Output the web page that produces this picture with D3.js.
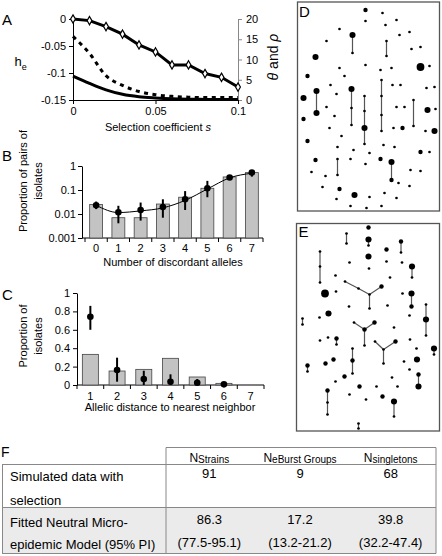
<!DOCTYPE html>
<html><head><meta charset="utf-8">
<script src="https://cdn.jsdelivr.net/npm/d3@7"></script>
<style>body{margin:0;background:#fff}svg{display:block}</style>
</head><body><svg id="c" width="442" height="556"></svg>
<script>
// ---------- Panel A data ----------
const sValues = [0,0.01,0.02,0.03,0.04,0.05,0.06,0.07,0.08,0.09,0.1];
const heValues = [0,-0.003,-0.014,-0.028,-0.048,-0.061,-0.085,-0.085,-0.101,-0.108,-0.126];
const thetaValues = [15.7,11.5,6,3.6,2.1,1.3,0.9,0.7,0.6,0.6,0.6];
const rhoValues = [5.9,4.1,2.5,1.4,0.8,0.5,0.3,0.2,0.15,0.1,0.1];
const aLeftTicks = [0,-0.05,-0.1,-0.15];
const aRightTicks = [0,5,10,15,20];
const aXTicks = [0,0.05,0.1];

// ---------- Panel B data ----------
const bCategories = [0,1,2,3,4,5,6,7];
const bBars = [0.025,0.007,0.007,0.026,0.05,0.118,0.35,0.53];
const bMeans = [0.023,0.0118,0.0147,0.0195,0.041,0.118,0.33,0.53];
const bLow = [0.016,0.0041,0.0053,0.007,0.0147,0.05,0.26,0.36];
const bHigh = [0.033,0.022,0.03,0.041,0.09,0.24,0.42,0.68];
const bFit = [0.023,0.0115,0.0135,0.018,0.037,0.11,0.32,0.5];
const bTicks = [0.001,0.01,0.1,1];

// ---------- Panel C data ----------
const cCategories = [1,2,3,4,5,6,7];
const cBars = [0.333,0.152,0.17,0.29,0.087,0.018,0];
const cMeans = [0.742,0.163,0.065,0.036,0.025,0.007,null];
const cLow = [0.6,0.036,0,0,0,0,null];
const cHigh = [0.86,0.297,0.155,0.116,0.065,0.012,null];
const cTicks = [0,0.2,0.4,0.6,0.8,1];

// ---------- Panel D network (local layout units, size = isolates) ----------
const dNodes = [[68,8,2],[85,11,1],[68,19,1],[99,18,1],[42,27,1],[88,23,1],[55,33,3],[55,51,1],[102,33,1],[112,30,1],
[29,39,1],[89,39,1],[89,54,1],[114,47,1],[123,45,1],[18,55,3],[123,65,4],[132,64,1],[42,66,1],[68,63,1],
[83,68,1],[94,66,1],[10,74,2],[47,74,1],[84,78,1],[19,89,3],[19,111,3],[54,87,3],[54,106,1],[54,123,1],
[67,94,1],[67,109,1],[67,126,3],[67,142,1],[84,94,1],[84,113,1],[84,129,1],[33,83,1],[39,92,1],[6,96,3],
[95,83,1],[103,83,1],[129,86,1],[137,85,1],[116,98,1],[116,124,1],[29,105,1],[37,114,1],[99,105,1],[107,105,1],
[130,108,3],[138,107,1],[6,117,2],[32,126,1],[96,126,1],[105,126,2],[128,129,1],[137,129,3],[44,134,1],[10,139,2],
[40,145,1],[56,148,1],[86,143,1],[97,145,1],[72,151,1],[123,150,2],[132,150,1],[18,158,2],[40,157,1],[40,173,1],
[53,157,1],[68,162,1],[83,157,2],[94,160,3],[94,178,2],[14,170,1],[28,174,1],[113,168,1],[123,169,1],[101,181,1],
[112,184,1],[25,185,1],[42,187,2],[57,193,3],[39,197,1],[72,195,1],[87,191,1],[99,196,1],[53,204,1],[69,206,1],[84,204,1]];
const dEdges = [[7,8],[12,13],[26,27],[28,29],[29,30],[25,35],[35,36],[36,37],[31,32],[32,33],[33,34],[45,46],[69,70],[74,75]];

// ---------- Panel E network ----------
const eNodes = [[72,4,2],[50,10,1],[50,20,1],[72,16,3],[72,22,1],[104.5,18,2],[104.5,29,1],[90,26,2],[23.5,28,1],[23.5,43,1],
[23.5,59,1],[72,33,3],[53,39,1],[90,38,1],[105.5,39,1],[115.5,43,3],[115.5,54,1],[72.5,45,1],[39,52,1],[93.5,54,1],
[48.5,58,1],[62,65,1],[73,71,1],[85,63,2],[73,85,1],[28.5,70,4],[39.5,68,1],[115,70,3],[115,83,2],[106,70,1],
[129.5,81,1],[129.5,96,3],[129.5,112,1],[52.5,83,1],[91,82,1],[32,90,3],[23,94,1],[113,92,1],[6,95,1],[6,101,1],
[57.5,99,1],[68,106,2],[78,99,2],[68,122,1],[97.5,104,1],[23.5,117,1],[31.5,114,1],[40,115,2],[40,121,1],[78.5,118,1],
[87,126,1],[99,118,2],[87,140,1],[113.5,116,1],[120,125,1],[137.5,125,3],[137.5,131,1],[56,125,1],[56,137,2],[56,150,1],
[37,136,2],[29,140,2],[11,142,2],[11,148,1],[107.5,138,1],[120.5,136,3],[113,146,1],[122,151,2],[122,163,3],[48,153,2],
[95.5,154,1],[39,158,1],[63,163,2],[80,163,1],[101,163,1],[31,167,2],[31,179,1],[31,191,1],[53,171,1],[86,173,2],
[97.5,178,3],[97.5,193,1],[69.5,176,1],[62,200,1],[62,205,1]];
const eEdges = [[2,3],[4,5],[6,7],[9,10],[10,11],[16,17],[21,22],[22,23],[24,23],[23,25],[28,29],[31,32],[32,33],[39,40],
[41,42],[43,42],[42,44],[48,49],[50,51],[52,51],[51,53],[56,57],[58,59],[59,60],[63,64],[68,69],[76,77],[77,78],[81,82],[84,85]];

// ---------- Panel F table ----------
const tableHeaders = [["N","Strains"],["N","eBurst Groups"],["N","singletons"]];
const tableRowLabels = [["Simulated data with","selection"],["Fitted Neutral Micro-","epidemic Model (95% PI)"]];
const tableRow1 = ["91","9","68"];
const tableRow2 = [["86.3","(77.5-95.1)"],["17.2","(13.2-21.2)"],["39.8","(32.2-47.4)"]];

// ================= drawing =================
const FONT = "'Liberation Sans', Arial, Helvetica, sans-serif";
const svg = d3.select("#c").attr("font-family", FONT);

function styleAxis(g, col){
  g.attr("font-family", FONT).attr("font-size", 11);
  g.selectAll("text").attr("fill", "#000");
  g.selectAll("line,path").attr("stroke", col || "#000");
}
function txt(x, y, s, size, anchor){
  return svg.append("text").attr("x", x).attr("y", y).attr("font-size", size)
    .attr("text-anchor", anchor || "start").attr("fill", "#000").text(s);
}
function vtxt(x, y, s, size){
  return svg.append("text").attr("transform", `translate(${x},${y}) rotate(-90)`)
    .attr("dy", "0.35em").attr("font-size", size).attr("text-anchor", "middle").attr("fill", "#000").text(s);
}

// ----- Panel A -----
const xA = d3.scaleLinear().domain([0, 0.1]).range([73, 238]);
const yAL = d3.scaleLinear().domain([-0.15, 0]).range([100, 19]);
const yAR = d3.scaleLinear().domain([0, 20]).range([100, 19]);

svg.append("g").attr("transform", "translate(73,0)")
  .call(d3.axisLeft(yAL).tickValues(aLeftTicks).tickSize(4).tickSizeOuter(0).tickPadding(3).tickFormat(d => String(d)))
  .call(g => styleAxis(g));
svg.append("g").attr("transform", "translate(238,0)")
  .call(d3.axisRight(yAR).tickValues(aRightTicks).tickSize(4).tickSizeOuter(0).tickPadding(4))
  .call(g => styleAxis(g, "#888"));
svg.append("g").attr("transform", "translate(0,100)")
  .call(d3.axisBottom(xA).tickValues(aXTicks).tickSize(4).tickSizeOuter(0).tickPadding(3).tickFormat(d => String(d)))
  .call(g => styleAxis(g));

const lineR = d3.line().x((d, i) => xA(sValues[i])).y(d => yAR(d)).curve(d3.curveMonotoneX);
svg.append("path").attr("d", lineR(rhoValues)).attr("fill", "none").attr("stroke", "#000").attr("stroke-width", 3);
svg.append("path").attr("d", lineR(thetaValues)).attr("fill", "none").attr("stroke", "#000").attr("stroke-width", 3)
  .attr("stroke-dasharray", "4,4.5");
const lineL = d3.line().x((d, i) => xA(sValues[i])).y(d => yAL(d));
svg.append("path").attr("d", lineL(heValues)).attr("fill", "none").attr("stroke", "#000").attr("stroke-width", 3);
svg.selectAll(".dm").data(heValues).join("path")
  .attr("transform", (d, i) => `translate(${xA(sValues[i])},${yAL(d)})`)
  .attr("d", d3.symbol(d3.symbolDiamond, 20)()).attr("fill", "#fff").attr("stroke", "#000").attr("stroke-width", 1.2);

txt(2, 25, "A", 15);
const he = txt(14.5, 66, "h", 13);
he.append("tspan").attr("font-size", 9).attr("dy", 4).text("e");
const tr = svg.append("text").attr("transform", "translate(273,57) rotate(-90)").attr("dy", "0.35em")
  .attr("font-size", 14).attr("text-anchor", "middle").attr("fill", "#000");
tr.append("tspan").attr("font-style", "italic").text("θ");
tr.append("tspan").text(" and ");
tr.append("tspan").attr("font-style", "italic").text("ρ");
const xt = txt(158, 131, "Selection coefficient ", 11, "middle");
xt.append("tspan").attr("font-style", "italic").text("s");

// ----- Panel B -----
const xB = d3.scaleBand().domain(bCategories).range([85, 263]);
const yB = d3.scaleLog().domain([0.001, 1]).range([238, 166]);
const bw = xB.bandwidth();
svg.append("g").attr("transform", "translate(82,0)")
  .call(d3.axisLeft(yB).tickValues(bTicks).tickSize(4).tickSizeOuter(0).tickPadding(2).tickFormat(d => String(d)))
  .call(g => styleAxis(g));
svg.append("line").attr("x1", 82).attr("x2", 263).attr("y1", 238).attr("y2", 238).attr("stroke", "#000");
svg.selectAll(".btick").data(bCategories.concat(["end"])).join("line")
  .attr("x1", d => d === "end" ? xB.range()[1] : xB(d)).attr("x2", d => d === "end" ? xB.range()[1] : xB(d))
  .attr("y1", 238).attr("y2", 242).attr("stroke", "#000");
svg.selectAll(".blab").data(bCategories).join("text")
  .attr("x", d => xB(d) + bw / 2).attr("y", 252).attr("font-size", 11).attr("text-anchor", "middle").text(d => d);
svg.selectAll(".bbar").data(bBars).join("rect")
  .attr("x", (d, i) => xB(bCategories[i]) + bw * 0.21).attr("width", bw * 0.58)
  .attr("y", d => yB(d)).attr("height", d => 238 - yB(d))
  .attr("fill", "#c3c3c3").attr("stroke", "#444").attr("stroke-width", 0.8);
svg.append("path").attr("d", d3.line().x((d, i) => xB(bCategories[i]) + bw / 2).y(d => yB(d)).curve(d3.curveMonotoneX)(bFit))
  .attr("fill", "none").attr("stroke", "#000").attr("stroke-width", 1);
svg.selectAll(".berr").data(bMeans).join("line")
  .attr("x1", (d, i) => xB(bCategories[i]) + bw / 2).attr("x2", (d, i) => xB(bCategories[i]) + bw / 2)
  .attr("y1", (d, i) => yB(bLow[i])).attr("y2", (d, i) => yB(bHigh[i])).attr("stroke", "#000").attr("stroke-width", 2);
svg.selectAll(".bpt").data(bMeans).join("circle")
  .attr("cx", (d, i) => xB(bCategories[i]) + bw / 2).attr("cy", d => yB(d)).attr("r", 3.3).attr("fill", "#000");
txt(2, 161, "B", 15);
vtxt(23, 181, "Proportion of pairs of", 11);
vtxt(38, 181, "isolates", 11);
txt(173, 266, "Number of discordant alleles", 11, "middle");

// ----- Panel C -----
const xC = d3.scaleBand().domain(cCategories).range([77, 264]);
const yC = d3.scaleLinear().domain([0, 1]).range([385, 293]);
const cw = xC.bandwidth();
svg.append("g").attr("transform", "translate(77,0)")
  .call(d3.axisLeft(yC).tickValues(cTicks).tickSize(4).tickSizeOuter(0).tickPadding(3).tickFormat(d => String(d)))
  .call(g => styleAxis(g));
svg.append("line").attr("x1", 77).attr("x2", 264).attr("y1", 385).attr("y2", 385).attr("stroke", "#000");
svg.selectAll(".ctick").data(cCategories.concat(["end"])).join("line")
  .attr("x1", d => d === "end" ? xC.range()[1] : xC(d)).attr("x2", d => d === "end" ? xC.range()[1] : xC(d))
  .attr("y1", 385).attr("y2", 389).attr("stroke", "#000");
svg.selectAll(".clab").data(cCategories).join("text")
  .attr("x", d => xC(d) + cw / 2).attr("y", 400).attr("font-size", 11).attr("text-anchor", "middle").text(d => d);
svg.selectAll(".cbar").data(cBars).join("rect")
  .attr("x", (d, i) => xC(cCategories[i]) + cw * 0.2).attr("width", cw * 0.6)
  .attr("y", d => yC(d)).attr("height", d => 385 - yC(d))
  .attr("fill", "#c3c3c3").attr("stroke", "#444").attr("stroke-width", 0.8);
const cIdx = cMeans.map((d, i) => i).filter(i => cMeans[i] !== null);
svg.selectAll(".cerr").data(cIdx).join("line")
  .attr("x1", i => xC(cCategories[i]) + cw / 2).attr("x2", i => xC(cCategories[i]) + cw / 2)
  .attr("y1", i => yC(cLow[i])).attr("y2", i => yC(cHigh[i])).attr("stroke", "#000").attr("stroke-width", 2);
svg.selectAll(".cpt").data(cIdx).join("circle")
  .attr("cx", i => xC(cCategories[i]) + cw / 2).attr("cy", i => yC(cMeans[i])).attr("r", 3.3).attr("fill", "#000");
txt(2, 300, "C", 15);
vtxt(23, 336, "Proportion of", 11);
vtxt(38, 336, "isolates", 11);
txt(170, 411, "Allelic distance to nearest neighbor", 11, "middle");

// ----- Networks D and E -----
const rScale = d3.scaleLinear().domain([1, 4]).range([1.35, 3.9]);
function network(nodes, edges, x0, x1, y0, y1, dx, dy, label, lx, ly){
  svg.append("rect").attr("x", x0).attr("y", y0).attr("width", x1 - x0).attr("height", y1 - y0)
    .attr("fill", "#fff").attr("stroke", "#555").attr("stroke-width", 1.3);
  const sx = d3.scaleLinear().domain([0, dx]).range([x0, x1]);
  const sy = d3.scaleLinear().domain([0, dy]).range([y0, y1]);
  svg.append("g").selectAll("line").data(edges).join("line")
    .attr("x1", d => sx(nodes[d[0] - 1][0])).attr("y1", d => sy(nodes[d[0] - 1][1]))
    .attr("x2", d => sx(nodes[d[1] - 1][0])).attr("y2", d => sy(nodes[d[1] - 1][1]))
    .attr("stroke", "#555").attr("stroke-width", 1.2);
  svg.append("g").selectAll("circle").data(nodes).join("circle")
    .attr("cx", d => sx(d[0])).attr("cy", d => sy(d[1])).attr("r", d => rScale(d[2])).attr("fill", "#000");
  txt(lx, ly, label, 15);
}
network(dNodes, dEdges, 297.5, 439.5, 2, 211, 142, 209, "D", 299, 17);
network(eNodes, eEdges, 296.5, 439.5, 223.5, 431, 143, 207.5, "E", 298.5, 237);

// ----- Panel F table -----
const tc = "#888";
const colX = d3.scaleBand().domain(tableHeaders.map((d, i) => i)).range([164, 436]);
svg.append("rect").attr("x", 2).attr("y", 507).attr("width", 434).attr("height", 46).attr("fill", "#ebebeb");
function hl(x1, x2, y){ svg.append("line").attr("x1", x1).attr("x2", x2).attr("y1", y).attr("y2", y).attr("stroke", tc); }
function vl(x, y1, y2){ svg.append("line").attr("x1", x).attr("x2", x).attr("y1", y1).attr("y2", y2).attr("stroke", tc); }
hl(166, 436, 447.5); hl(2, 436, 464.5); hl(2, 436, 507.5); hl(2, 436, 553.5);
vl(2.5, 464.5, 553.5); vl(166, 447.5, 553.5); vl(436, 447.5, 553.5);
txt(1, 457, "F", 14);
tableHeaders.forEach((h, i) => {
  const t = txt(colX(i) + colX.bandwidth() / 2, 462, h[0], 12, "middle");
  t.append("tspan").attr("font-size", 10).attr("dy", 1).text(h[1]);
});
tableRowLabels.forEach((r, j) => {
  txt(10, j === 0 ? 481 : 527, r[0], 13);
  txt(10, j === 0 ? 505 : 549, r[1], 13);
});
tableRow1.forEach((v, i) => txt(colX(i) + colX.bandwidth() / 2, 478, v, 13, "middle"));
tableRow2.forEach((v, i) => {
  txt(colX(i) + colX.bandwidth() / 2, 524, v[0], 13, "middle");
  txt(colX(i) + colX.bandwidth() / 2, 547, v[1], 13, "middle");
});
</script></body></html>
